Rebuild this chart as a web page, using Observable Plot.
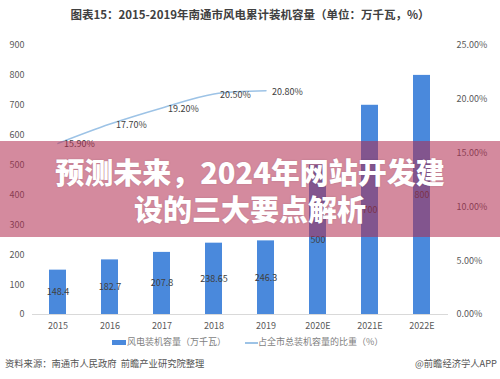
<!DOCTYPE html>
<html>
<head>
<meta charset="utf-8">
<script src="https://cdn.jsdelivr.net/npm/d3@7"></script>
<script src="https://cdn.jsdelivr.net/npm/@observablehq/plot@0.6"></script>
<style>
  html, body { margin: 0; padding: 0; background: #fff; }
  #root { position: relative; width: 500px; height: 379px; overflow: hidden; font-family: "Noto Sans CJK SC", "Noto Sans", sans-serif; }
  #title { position: absolute; left: 0; top: 5px; width: 500px; text-align: center; font-size: 11.5px; font-weight: bold; color: #404040; line-height: 18px; }
  #chart { position: absolute; left: 0; top: 30px; }
  #legend { position: absolute; left: 0; top: 335px; width: 500px; font-size: 9px; color: #7f7f7f; line-height: 14px; }
  .lg { position: absolute; top: 0; white-space: nowrap; }
  .sw-bar { position: absolute; width: 14px; height: 5px; background: #4a89dc; top: 5px; }
  .sw-line { position: absolute; width: 13px; height: 1.5px; background: #9dc3e6; top: 7px; }
  #source { position: absolute; left: 5px; top: 355px; font-size: 9.3px; color: #555; line-height: 16px; white-space: pre; }
  #app { position: absolute; right: 3px; top: 355px; font-size: 9.3px; color: #555; line-height: 16px; white-space: nowrap; }
  #overlay { position: absolute; left: 0; top: 141px; width: 500px; height: 96px; background: rgba(177, 42, 79, 0.55); }
  #overlay-text { position: absolute; left: 0; top: 153px; width: 500px; text-align: center; color: #fff; font-weight: 900; font-size: 29px; line-height: 37px; white-space: nowrap; text-shadow: 0 0 2px rgba(0,0,0,0.15); }
</style>
</head>
<body>
<div id="root">
  <div id="title"></div>
  <div id="chart"></div>
  <div id="legend"></div>
  <div id="source"></div>
  <div id="app"></div>
  <div id="overlay"></div>
  <div id="overlay-text"></div>
</div>
<script>
const titleText = "图表15：2015-2019年南通市风电累计装机容量（单位：万千瓦，%）";
const years = ["2015", "2016", "2017", "2018", "2019", "2020E", "2021E", "2022E"];
const capacity = [148.4, 182.7, 207.8, 238.65, 246.3, 500, 700, 800];
const capacityLabels = ["148.4", "182.7", "207.8", "238.65", "246.3", "500", "700", "800"];
const shareYears = ["2015", "2016", "2017", "2018", "2019"];
const share = [15.9, 17.7, 19.2, 20.5, 20.8];
const shareLabels = ["15.90%", "17.70%", "19.20%", "20.50%", "20.80%"];
const leftTicks = [0, 100, 200, 300, 400, 500, 600, 700, 800, 900];
const rightTicks = [0, 5, 10, 15, 20, 25];
const legendLabels = ["风电装机容量（万千瓦）", "占全市总装机容量的比重（%）"];
const sourceText = "资料来源：南通市人民政府  前瞻产业研究院整理";
const appText = "@前瞻经济学人APP";
const overlayLines = ["预测未来，2024年网站开发建", "设的三大要点解析"];

const leftMax = 900, rightMax = 25;
const k = leftMax / rightMax;

const bars = years.map((y, i) => ({year: y, value: capacity[i], label: capacityLabels[i]}));
const pts = shareYears.map((y, i) => ({year: y, pct: share[i], label: shareLabels[i]}));

const chart = Plot.plot({
  width: 500,
  height: 310,
  marginTop: 15,
  marginBottom: 26,
  marginLeft: 32,
  marginRight: 52,
  style: {fontFamily: '"Noto Sans CJK SC", "Noto Sans", sans-serif', fontSize: "9px", color: "#595959", background: "transparent"},
  x: {domain: years, paddingInner: 0.67, paddingOuter: 0.335, label: null},
  y: {domain: [0, leftMax], label: null},
  marks: [
    Plot.axisY(leftTicks, {tickSize: 0, tickPadding: 8, label: null, fill: "#595959"}),
    Plot.axisY(rightTicks.map(t => t * k), {anchor: "right", tickSize: 0, tickPadding: 8, label: null, fill: "#595959",
      tickFormat: v => (v / k).toFixed(2) + "%"}),
    Plot.axisX({tickSize: 0, tickPadding: 8, label: null, fill: "#595959"}),
    Plot.ruleY([0], {stroke: "#d9d9d9"}),
    Plot.barY(bars, {x: "year", y: "value", fill: "#4a89dc"}),
    Plot.text(bars, {x: "year", y: d => d.value / 2, text: "label", fill: "#404040", fontSize: 9}),
    Plot.line(pts, {x: "year", y: d => d.pct * k, curve: "catmull-rom", stroke: "#9dc3e6", strokeWidth: 1.5}),
    Plot.text(pts, {x: "year", y: d => d.pct * k, text: "label", textAnchor: "start", dx: 6, dy: 1, fill: "#404040", fontSize: 9})
  ]
});
document.getElementById("chart").appendChild(chart);

document.getElementById("title").textContent = titleText;
const legend = document.getElementById("legend");
legend.innerHTML =
  '<div class="sw-bar" style="left:112px"></div>' +
  '<div class="lg" style="left:127px">' + legendLabels[0] + '</div>' +
  '<div class="sw-line" style="left:245px"></div>' +
  '<div class="lg" style="left:258px">' + legendLabels[1] + '</div>';
document.getElementById("source").textContent = sourceText;
document.getElementById("app").textContent = appText;
document.getElementById("overlay-text").innerHTML = overlayLines.join("<br>");
</script>
</body>
</html>
